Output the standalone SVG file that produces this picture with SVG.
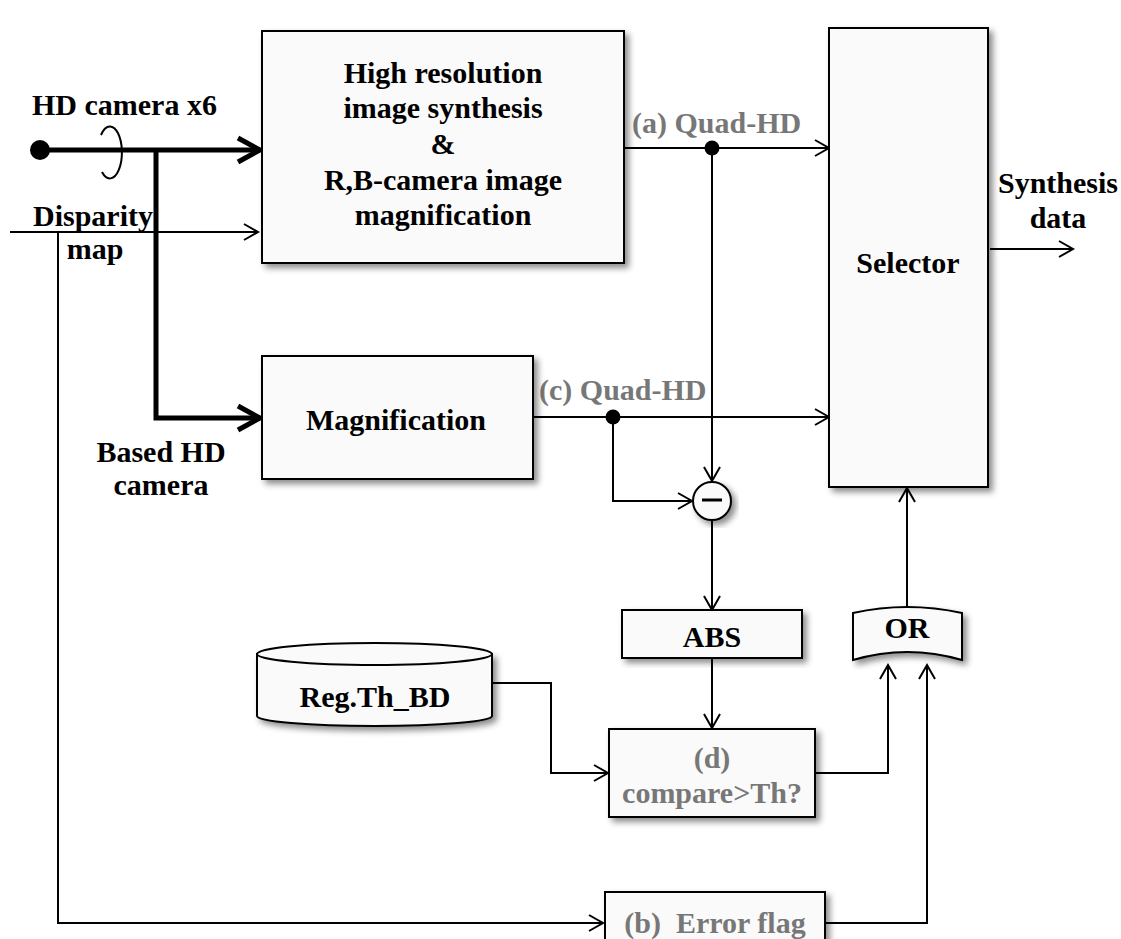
<svg xmlns="http://www.w3.org/2000/svg" width="1121" height="939" viewBox="0 0 1121 939">
<defs>
<filter id="sh" x="-20%" y="-20%" width="140%" height="140%">
<feDropShadow dx="4" dy="4" stdDeviation="3" flood-color="#000" flood-opacity="0.45"/>
</filter>
<marker id="ar" markerUnits="userSpaceOnUse" markerWidth="18" markerHeight="20" refX="15" refY="9" orient="auto" overflow="visible">
<path d="M1,1 L15,9 L1,17" fill="none" stroke="#000" stroke-width="2"/>
</marker>
<marker id="arT" markerUnits="userSpaceOnUse" markerWidth="28" markerHeight="30" refX="23" refY="13" orient="auto" overflow="visible">
<path d="M1,1 L23,13 L1,25" fill="none" stroke="#000" stroke-width="5"/>
</marker>
</defs>
<style>
.box{fill:#fafafa;stroke:#000;stroke-width:2}
.t{font-family:"Liberation Serif","Times New Roman",serif;font-weight:bold;font-size:30px;fill:#000}
.g{fill:#777}
.c{text-anchor:middle}
.ln{fill:none;stroke:#000;stroke-width:2}
.thick{fill:none;stroke:#000;stroke-width:5}
</style>
<rect width="1121" height="939" fill="#fff"/>

<g id="connectors">
<circle cx="40" cy="150" r="10" fill="#000"/>
<path class="thick" d="M40,150 L260,150" marker-end="url(#arT)"/>
<path class="thick" d="M156,150 L156,418 L260,418" marker-end="url(#arT)"/>
<path class="ln" d="M101,135 A12,26 0 1 1 102,172" stroke-width="1.6"/>
<path class="ln" d="M10,232 L258,232" marker-end="url(#ar)"/>
<path class="ln" d="M58,232 L58,923 L603,923" marker-end="url(#ar)"/>
<path class="ln" d="M624,148 L829,148" marker-end="url(#ar)"/>
<circle cx="712" cy="148" r="7.5" fill="#000"/>
<path class="ln" d="M712,148 L712,481" marker-end="url(#ar)"/>
<path class="ln" d="M533,417 L829,417" marker-end="url(#ar)"/>
<circle cx="613" cy="417" r="7.5" fill="#000"/>
<path class="ln" d="M613,417 L613,501 L692,501" marker-end="url(#ar)"/>
<path class="ln" d="M712,520 L712,610" marker-end="url(#ar)"/>
<path class="ln" d="M712,658 L712,728" marker-end="url(#ar)"/>
<path class="ln" d="M492,683 L551,683 L551,773 L608,773" marker-end="url(#ar)"/>
<path class="ln" d="M815,773 L888,773 L888,665" marker-end="url(#ar)"/>
<path class="ln" d="M825,923 L927,923 L927,665" marker-end="url(#ar)"/>
<path class="ln" d="M907,607 L907,488" marker-end="url(#ar)"/>
<path class="ln" d="M990,249 L1073,249" marker-end="url(#ar)"/>
</g>

<g id="labels">
<text class="t" x="32" y="115">HD camera x6</text>
<text class="t" x="33" y="226">Disparity</text>
<text class="t c" x="95" y="259">map</text>
<text class="t c" x="161" y="462">Based HD</text>
<text class="t c" x="161" y="495">camera</text>
<text class="t g" x="632" y="133">(a) Quad-HD</text>
<text class="t g" x="539" y="400">(c) Quad-HD</text>
<text class="t" x="998" y="193">Synthesis</text>
<text class="t c" x="1058" y="228">data</text>
</g>

<g id="synthesis">
<rect class="box" x="262" y="31" width="362" height="232" filter="url(#sh)"/>
<text class="t c" x="443" y="83">High resolution</text>
<text class="t c" x="443" y="118">image synthesis</text>
<text class="t c" x="443" y="154">&amp;</text>
<text class="t c" x="443" y="190">R,B-camera image</text>
<text class="t c" x="443" y="225">magnification</text>
</g>

<g id="selector">
<rect class="box" x="829" y="28" width="159" height="459" filter="url(#sh)"/>
<text class="t c" x="908" y="273">Selector</text>
</g>

<g id="magnification">
<rect class="box" x="262" y="356" width="271" height="123" filter="url(#sh)"/>
<text class="t c" x="396" y="430">Magnification</text>
</g>

<g id="subtract">
<circle class="box" cx="712" cy="501" r="19" filter="url(#sh)"/>
<path d="M702,500 L722,500" stroke="#000" stroke-width="3"/>
</g>

<g id="abs">
<rect class="box" x="622" y="610" width="180" height="48" filter="url(#sh)"/>
<text class="t c" x="712" y="647">ABS</text>
</g>

<g id="reg">
<path class="box" d="M257,654 L257,716 A117.5,10 0 0 0 492,716 L492,654 Z" filter="url(#sh)"/>
<ellipse class="box" cx="374.5" cy="654" rx="117.5" ry="11"/>
<text class="t c" x="375" y="707">Reg.Th_BD</text>
</g>

<g id="compare">
<rect class="box" x="609" y="729" width="206" height="88" filter="url(#sh)"/>
<text class="t g c" x="712" y="768">(d)</text>
<text class="t g c" x="712" y="803">compare&gt;Th?</text>
</g>

<g id="or">
<path class="box" d="M853,613 Q907,601 962,613 L962,660 Q907,644 853,660 Z" filter="url(#sh)"/>
<text class="t c" x="907" y="638">OR</text>
</g>

<g id="errorflag">
<rect class="box" x="605" y="892" width="220" height="60" filter="url(#sh)"/>
<text class="t g c" x="715" y="933" xml:space="preserve">(b)  Error flag</text>
</g>
</svg>
